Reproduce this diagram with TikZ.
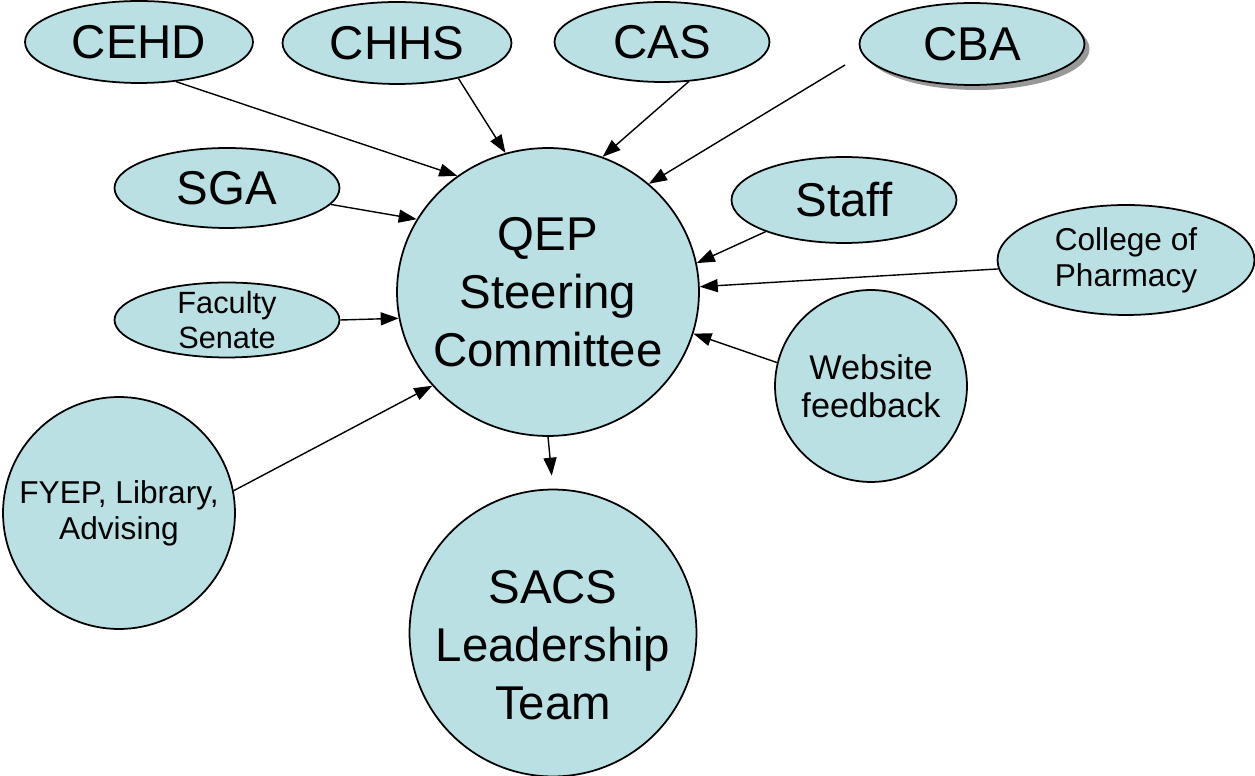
\documentclass[tikz,border=0pt]{standalone}
\usepackage{fontspec}
\setmainfont{Liberation Sans}
\usetikzlibrary{arrows.meta,shapes.geometric,shadows}
\definecolor{paleteal}{RGB}{186,224,227}

\begin{document}
\begin{tikzpicture}[x=0.02cm, y=-0.02cm,
    bubble/.style={ellipse, draw=black, line width=1pt, fill=paleteal, inner sep=-1cm, align=center},
    huge/.style={font=\fontsize{27}{33}\selectfont},
    big/.style={font=\fontsize{27}{33}\selectfont},
    mid/.style={font=\fontsize{19.5}{21.5}\selectfont},
    small/.style={font=\fontsize{18}{20.5}\selectfont},
    arr/.style={-{Triangle[length=0.36cm,width=0.26cm]}, line width=0.8pt}]
\useasboundingbox (0,0) rectangle (1255,776);

% colleges along the top
\node[bubble, huge, minimum width=4.56cm, minimum height=1.64cm] (cehd) at (139,42) {CEHD};
\node[bubble, huge, minimum width=4.58cm, minimum height=1.64cm] (chhs) at (397,43) {CHHS};
\node[bubble, huge, minimum width=4.30cm, minimum height=1.60cm] (cas) at (662,42) {CAS};
\node[bubble, huge, minimum width=4.50cm, minimum height=1.64cm,
      drop shadow={shadow xshift=0.1cm, shadow yshift=-0.1cm, fill=gray!80, opacity=1}] (cba) at (972,44) {CBA};
\coordinate (cbatail) at (845,65);

% the committee and the team it reports to
\node[bubble, big, minimum width=6.04cm, minimum height=5.76cm] (qep) at (548,292) {QEP\\Steering\\Committee};
\node[bubble, big, minimum width=5.74cm, minimum height=5.74cm] (sacs) at (553,633) {\rule{0pt}{1.15cm}SACS\\Leadership\\Team};

% other inputs
\node[bubble, huge, minimum width=4.50cm, minimum height=1.60cm] (sga) at (227,188) {SGA};
\node[bubble, huge, minimum width=4.50cm, minimum height=1.72cm] (staff) at (844,200) {Staff};
\node[bubble, small, minimum width=5.14cm, minimum height=2.20cm] (pharm) at (1126,260) {College of\\Pharmacy};
\node[bubble, small, font=\fontsize{17.5}{20}\selectfont, minimum width=4.50cm, minimum height=1.50cm] (senate) at (227,320) {Faculty\\Senate};
\node[bubble, mid, minimum width=3.84cm, minimum height=3.84cm] (web) at (871,386) {Website\\feedback};
\node[bubble, small, minimum width=4.64cm, minimum height=4.64cm] (fyep) at (119,513) {FYEP, Library,\\Advising};

\foreach \from/\to in {cehd.-47/qep.128, chhs.-30/qep.107, cas.-56/qep.68, cbatail/qep.47,
    sga.-9/qep.151, staff.-158/qep.11, pharm.-176/qep.2, senate.east/qep.-170,
    web.166/qep.-16, fyep.11/qep.-141}
    \draw[arr] (\from) -- (\to);
\draw[arr, shorten >=0.26cm] (qep.south) -- (sacs.north);
\end{tikzpicture}
\end{document}
